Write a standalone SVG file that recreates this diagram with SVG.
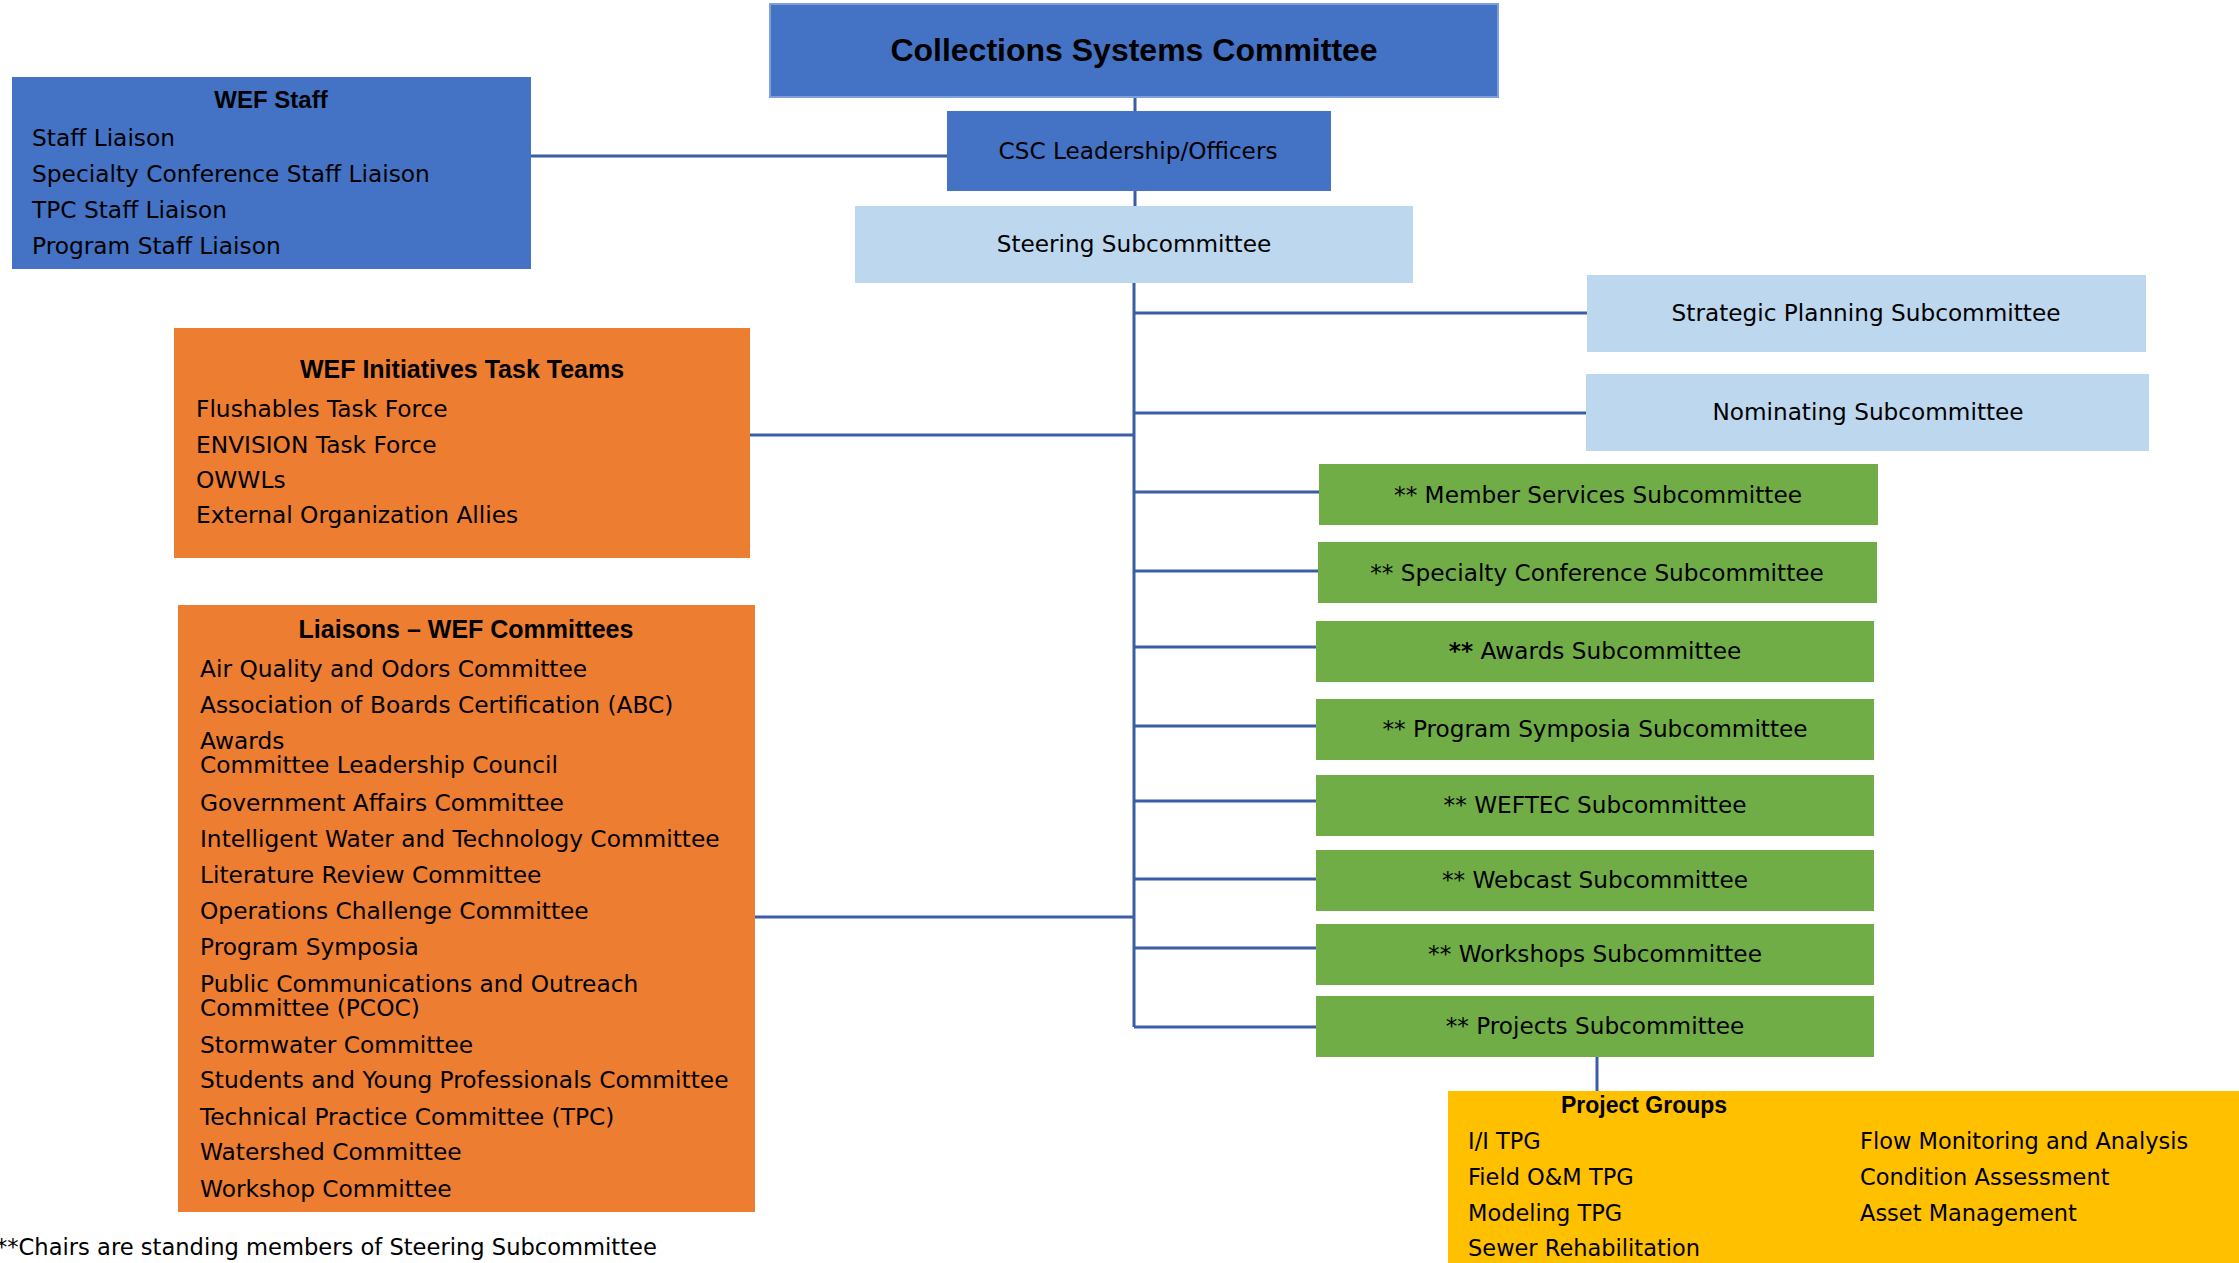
<svg xmlns="http://www.w3.org/2000/svg" width="2239" height="1263" viewBox="0 0 2239 1263">
<style>
.blue{fill:#4472C4}
.lblue{fill:#BDD7EE}
.orange{fill:#ED7D31}
.green{fill:#70AD47}
.yellow{fill:#FFC000}
.t{font-family:"DejaVu Sans","Liberation Sans",sans-serif;font-size:23.3px;fill:#000}
.tc{font-family:"DejaVu Sans","Liberation Sans",sans-serif;font-size:23.2px;fill:#000;text-anchor:middle}
.pg{font-family:"DejaVu Sans","Liberation Sans",sans-serif;font-size:22.5px;fill:#000}
.b{font-family:"Liberation Sans",Arial,sans-serif;font-weight:bold;fill:#000;text-anchor:middle}
.conn{stroke:#3A5DA6;stroke-width:3;fill:none}
</style>
<rect width="2239" height="1263" fill="#FFFFFF"/>
<g id="connectors">
<path class="conn" d="M1135 97V111M1135 191V206M1134 283V1027"/>
<path class="conn" d="M531 156H947"/>
<path class="conn" d="M750 435H1134M755 917H1134"/>
<path class="conn" d="M1134 313H1587M1134 413H1586M1134 492H1319M1134 571H1318M1134 647H1316M1134 726H1316M1134 801H1316M1134 879H1316M1134 948H1316M1134 1027H1316"/>
<path class="conn" d="M1597 1057V1091"/>
</g>
<g id="csc">
<rect class="blue" x="770" y="4" width="728" height="93" stroke="#7F9FDA" stroke-width="2"/>
<text class="b" x="1134" y="61" font-size="32">Collections Systems Committee</text>
</g>
<g id="leadership">
<rect class="blue" x="947" y="111" width="384" height="80"/>
<text class="tc" x="1138" y="159">CSC Leadership/Officers</text>
</g>
<g id="steering">
<rect class="lblue" x="855" y="206" width="558" height="77"/>
<text class="tc" x="1134" y="252">Steering Subcommittee</text>
</g>
<g id="wef-staff">
<rect class="blue" x="12" y="77" width="519" height="192"/>
<text class="b" x="271" y="108" font-size="24">WEF Staff</text>
<text class="t" x="32" y="146">Staff Liaison</text>
<text class="t" x="32" y="182">Specialty Conference Staff Liaison</text>
<text class="t" x="32" y="218">TPC Staff Liaison</text>
<text class="t" x="32" y="254">Program Staff Liaison</text>
</g>
<g id="strategic">
<rect class="lblue" x="1587" y="275" width="559" height="77"/>
<text class="tc" x="1866" y="321">Strategic Planning Subcommittee</text>
</g>
<g id="nominating">
<rect class="lblue" x="1586" y="374" width="563" height="77"/>
<text class="tc" x="1868" y="420">Nominating Subcommittee</text>
</g>
<g id="initiatives">
<rect class="orange" x="174" y="328" width="576" height="230"/>
<text class="b" x="462" y="378" font-size="25">WEF Initiatives Task Teams</text>
<text class="t" x="196" y="417">Flushables Task Force</text>
<text class="t" x="196" y="453">ENVISION Task Force</text>
<text class="t" x="196" y="488">OWWLs</text>
<text class="t" x="196" y="523">External Organization Allies</text>
</g>
<g id="liaisons">
<rect class="orange" x="178" y="605" width="577" height="607"/>
<text class="b" x="466" y="638" font-size="25">Liaisons – WEF Committees</text>
<text class="t" x="200" y="677">Air Quality and Odors Committee</text>
<text class="t" x="200" y="713">Association of Boards Certification (ABC)</text>
<text class="t" x="200" y="749">Awards</text>
<text class="t" x="200" y="773">Committee Leadership Council</text>
<text class="t" x="200" y="811">Government Affairs Committee</text>
<text class="t" x="200" y="847">Intelligent Water and Technology Committee</text>
<text class="t" x="200" y="883">Literature Review Committee</text>
<text class="t" x="200" y="919">Operations Challenge Committee</text>
<text class="t" x="200" y="955">Program Symposia</text>
<text class="t" x="200" y="992">Public Communications and Outreach</text>
<text class="t" x="200" y="1016">Committee (PCOC)</text>
<text class="t" x="200" y="1053">Stormwater Committee</text>
<text class="t" x="200" y="1088">Students and Young Professionals Committee</text>
<text class="t" x="200" y="1125">Technical Practice Committee (TPC)</text>
<text class="t" x="200" y="1160">Watershed Committee</text>
<text class="t" x="200" y="1197">Workshop Committee</text>
</g>
<g id="member-services">
<rect class="green" x="1319" y="464" width="559" height="61"/>
<text class="tc" x="1598" y="503">** Member Services Subcommittee</text>
</g>
<g id="specialty-conference">
<rect class="green" x="1318" y="542" width="559" height="61"/>
<text class="tc" x="1597" y="581">** Specialty Conference Subcommittee</text>
</g>
<g id="awards">
<rect class="green" x="1316" y="621" width="558" height="61"/>
<text class="tc" x="1595" y="659"><tspan font-weight="bold">**</tspan> Awards Subcommittee</text>
</g>
<g id="program-symposia">
<rect class="green" x="1316" y="699" width="558" height="61"/>
<text class="tc" x="1595" y="737">** Program Symposia Subcommittee</text>
</g>
<g id="weftec">
<rect class="green" x="1316" y="775" width="558" height="61"/>
<text class="tc" x="1595" y="813">** WEFTEC Subcommittee</text>
</g>
<g id="webcast">
<rect class="green" x="1316" y="850" width="558" height="61"/>
<text class="tc" x="1595" y="888">** Webcast Subcommittee</text>
</g>
<g id="workshops">
<rect class="green" x="1316" y="924" width="558" height="61"/>
<text class="tc" x="1595" y="962">** Workshops Subcommittee</text>
</g>
<g id="projects">
<rect class="green" x="1316" y="996" width="558" height="61"/>
<text class="tc" x="1595" y="1034">** Projects Subcommittee</text>
</g>
<g id="project-groups">
<rect class="yellow" x="1448" y="1091" width="791" height="172"/>
<text class="b" x="1644" y="1113" font-size="23">Project Groups</text>
<text class="pg" x="1468" y="1149">I/I TPG</text>
<text class="pg" x="1468" y="1185">Field O&amp;M TPG</text>
<text class="pg" x="1468" y="1221">Modeling TPG</text>
<text class="pg" x="1468" y="1256">Sewer Rehabilitation</text>
<text class="pg" x="1860" y="1149">Flow Monitoring and Analysis</text>
<text class="pg" x="1860" y="1185">Condition Assessment</text>
<text class="pg" x="1860" y="1221">Asset Management</text>
</g>
<g id="footnote">
<text class="t" x="-4" y="1255" style="font-size:22.6px">**Chairs are standing members of Steering Subcommittee</text>
</g>
</svg>
